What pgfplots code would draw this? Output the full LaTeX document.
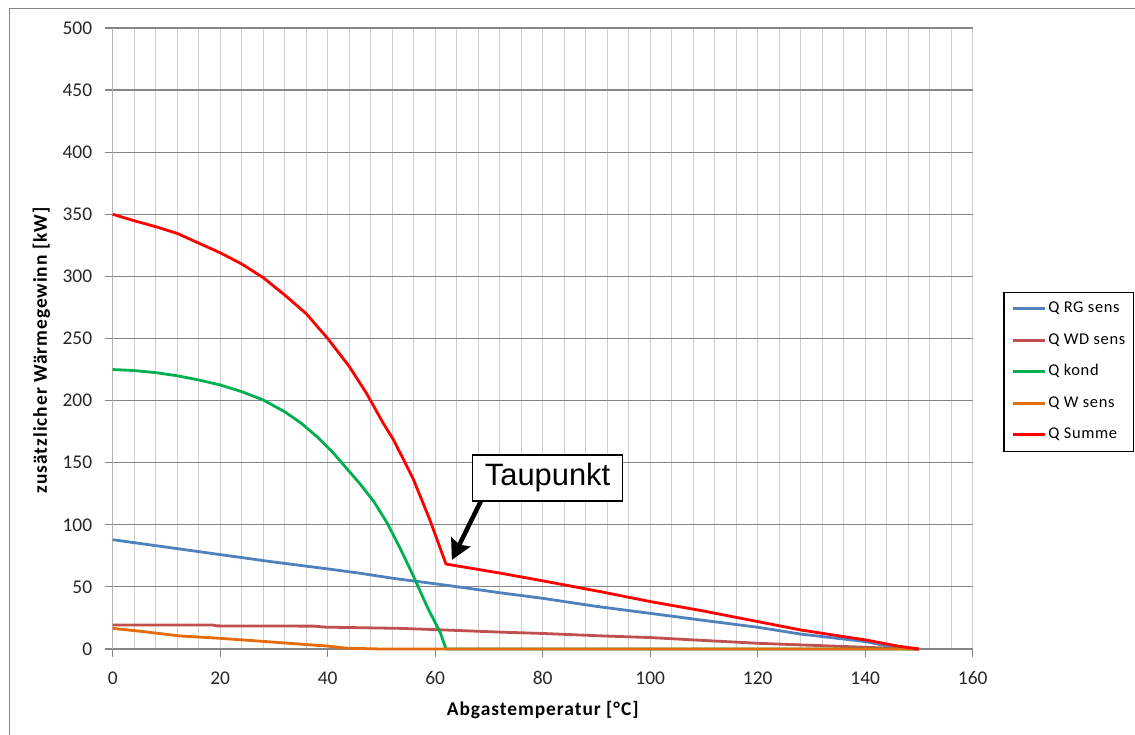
\documentclass[border=0pt]{standalone}
\usepackage{fontspec}
\setmainfont{Carlito}
\newfontfamily\widefont[LetterSpace=5]{Carlito}
\newfontfamily\legendfont[LetterSpace=4]{Carlito}
\newfontfamily\arialfont{Liberation Sans}
\usepackage{pgfplots}
\pgfplotsset{compat=1.18}
\usetikzlibrary{arrows.meta}

\definecolor{qrg}{HTML}{4F81BD}
\definecolor{qwd}{HTML}{C0504D}
\definecolor{qkond}{HTML}{00B050}
\definecolor{qw}{HTML}{E46C0A}
\definecolor{qsum}{HTML}{FF0000}
\definecolor{gridmaj}{HTML}{868686}
\definecolor{gridmin}{HTML}{CFCFCF}

\begin{document}
\begin{tikzpicture}[x=1bp,y=1bp]
% page frame
\path[use as bounding box] (0,0) rectangle (1135,735);
\draw[gridmaj, line width=1.2bp] (9.3,0) -- (9.3,726.7) -- (1135,726.7);

\begin{axis}[
  at={(112.7bp,86bp)}, anchor=origin,
  x=5.375bp, y=1.242bp,
  xmin=0, xmax=160, ymin=0, ymax=500,
  clip=false,
  axis x line=bottom, axis y line=left,
  x axis line style={-, gridmaj, line width=1.2bp},
  y axis line style={-, black!30, line width=1.2bp},
  xtick={0,20,...,160},
  ytick={0,50,...,500},
  minor xtick={4,8,...,156},
  xmajorgrids, xminorgrids, ymajorgrids,
  major x grid style={gridmin, line width=1.2bp},
  minor x grid style={gridmin, line width=1.2bp},
  major y grid style={gridmaj, line width=1.2bp},
  tick align=outside,
  major tick length=8bp, minor tick length=0bp,
  tick style={gridmaj, line width=1.2bp},
  /pgf/number format/assume math mode=true,
  ticklabel style={font=\fontsize{19.5}{22}\selectfont, text=black!85},
  xticklabel style={anchor=center, yshift=-21bp},
  yticklabel style={anchor=east, xshift=-9bp},
  xlabel={Abgastemperatur [°C]},
  ylabel={zusätzlicher Wärmegewinn [kW]},
  every axis x label/.style={at={(axis description cs:0.5,-0.098)}, anchor=center,
    font=\widefont\bfseries\fontsize{19.5}{22}\selectfont},
  every axis y label/.style={at={(axis description cs:-0.0828,0.481)}, anchor=center,
    rotate=90, font=\widefont\bfseries\fontsize{19.5}{22}\selectfont},
  legend style={at={(axis description cs:1.0356,0.5754)}, anchor=north west,
    draw=black, line width=1.3bp, fill=white,
    font=\legendfont\fontsize{16.5}{18}\selectfont,
    inner xsep=8bp, inner ysep=9bp, row sep=16.5bp,
    nodes={inner sep=0bp, text height=11.5bp, text depth=3.5bp},
    /tikz/column sep=2bp},
  legend cell align=left,
  legend image code/.code={\draw[#1, line width=2.8bp] (0bp,0bp) -- (31.6bp,0bp);},
  every axis plot/.append style={line width=2.8bp, line join=round},
]
\addplot[qrg] coordinates {
  (0,88) (10,82) (20,76) (30,70) (40,64.5) (46,61) (52,57) (60,52.5)
  (66,49) (72,45.3) (80,40.8) (90,34.3) (100,28.7) (110,23) (120,17.5)
  (128,12) (140,6) (146,0.8) (148,0.2) (150,0)};
\addlegendentry{Q RG sens}
\addplot[qwd] coordinates {
  (0,19.3) (18.5,19.3) (19.5,18.6) (37.5,18.4) (39.5,17.6) (48,17)
  (53.6,16.6) (60,15.6) (72,13.6) (80,12.5) (90.7,10.6) (100,9.2)
  (109.4,7) (120,4.6) (128,3.3) (140,1.4) (146,0.4) (150,0)};
\addlegendentry{Q WD sens}
\addplot[qkond] coordinates {
  (0,225) (4,224.2) (8,222.5) (12,220) (16,216.6) (20,212.6) (24,207.2)
  (28,200.5) (32,191) (35,182) (38,171) (41,158) (44,143) (46,133)
  (48.6,118.6) (51.1,101.2) (53.6,80) (56,58.2) (58.5,34) (61,12.6)
  (62,0) (150,0)};
\addlegendentry{Q kond}
\addplot[qw] coordinates {
  (0,16.6) (5.7,14) (12.5,10.5) (20,8.6) (28.7,5.9) (39.8,2.4)
  (43.6,0.6) (50,0) (150,0)};
\addlegendentry{Q W sens}
\addplot[qsum] coordinates {
  (0,350) (4,344.8) (8,340) (12,334.6) (16,326.8) (20,319) (24,310)
  (28,299) (32,285) (36,270) (40,250) (44,227.5) (47.2,206) (50.3,182)
  (52.3,168) (55.9,137) (59,104) (62,68.4) (72.2,61) (80.1,54.8)
  (90.7,46.2) (100,38.2) (109.4,31) (120.1,22) (128,15.3) (140.2,7.2)
  (146,2.4) (150,0)};
\addlegendentry{Q Summe}

% dew point callout
\draw[black, line width=4.5bp, -{Stealth[length=20bp, width=21bp, inset=3bp]}]
  (axis cs:68.6,120) -- (axis cs:63.1,71.7);
\node[draw=black, line width=1.2bp, fill=white, minimum width=150bp,
  minimum height=46bp, inner sep=0bp, font=\arialfont\fontsize{31}{34}\selectfont]
  at (axis cs:80.9,137.7) {Taupunkt};
\end{axis}
\end{tikzpicture}
\end{document}
